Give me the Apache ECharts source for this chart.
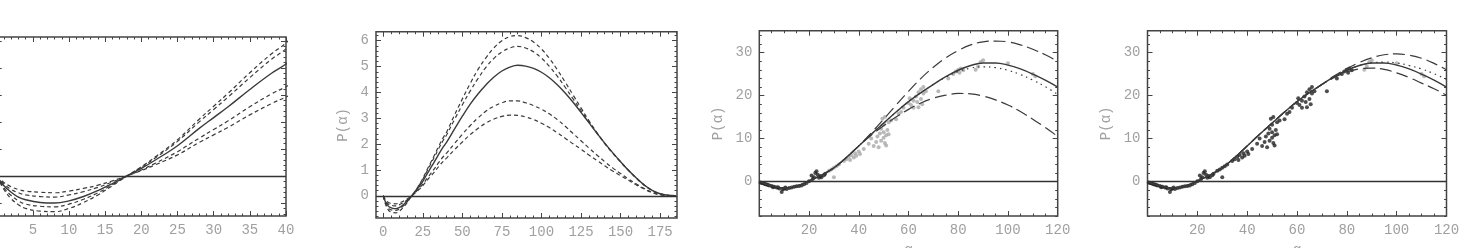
<!DOCTYPE html>
<html>
<head>
<meta charset="utf-8">
<script src="https://cdn.jsdelivr.net/npm/echarts@6/dist/echarts.min.js"></script>
<style>
html,body{margin:0;padding:0;background:#fff}
#main{width:1460px;height:248px}
</style>
</head>
<body>
<div id="main"></div>
<script>
// panels 1 and 2: same curves, panel 1 is the zoomed start
var xs12 = [0,1,2,3,4,6,8,10,12,14,16,18,20,22,25,28,30,32,35,38,40,45,50,55,60,65,70,75,80,85,90,95,100,105,110,115,120,125,130,135,140,145,150,155,160,165,170,175,180,185];
var p12Solid = [0,-0.18,-0.30,-0.39,-0.44,-0.49,-0.50,-0.46,-0.38,-0.27,-0.14,0,0.14,0.30,0.56,0.88,1.08,1.28,1.60,1.90,2.07,2.58,3.08,3.55,3.95,4.30,4.60,4.83,4.98,5.05,5.02,4.93,4.78,4.57,4.30,3.98,3.62,3.23,2.83,2.43,2.04,1.67,1.32,0.99,0.69,0.42,0.21,0.08,0.02,0];
var p12D1 = [0,-0.25,-0.42,-0.53,-0.60,-0.65,-0.66,-0.60,-0.49,-0.35,-0.18,0,0.17,0.36,0.67,1.05,1.29,1.53,1.91,2.26,2.46,3.12,3.75,4.35,4.90,5.35,5.73,6.00,6.16,6.20,6.12,5.95,5.68,5.32,4.88,4.40,3.90,3.40,2.91,2.45,2.03,1.65,1.31,0.98,0.68,0.41,0.20,0.07,0.02,0];
var p12D2 = [0,-0.22,-0.36,-0.46,-0.52,-0.56,-0.57,-0.52,-0.43,-0.31,-0.16,0,0.16,0.34,0.64,1.00,1.23,1.46,1.82,2.16,2.35,2.95,3.52,4.06,4.55,4.98,5.32,5.57,5.72,5.78,5.72,5.57,5.33,5.01,4.63,4.20,3.75,3.30,2.86,2.43,2.03,1.66,1.32,0.99,0.69,0.42,0.21,0.08,0.02,0];
var p12D3 = [0,-0.15,-0.25,-0.31,-0.35,-0.38,-0.39,-0.35,-0.29,-0.21,-0.11,0,0.11,0.24,0.45,0.70,0.86,1.02,1.28,1.52,1.65,2.02,2.38,2.72,3.02,3.28,3.47,3.60,3.67,3.67,3.60,3.49,3.35,3.17,2.95,2.69,2.41,2.13,1.85,1.58,1.32,1.08,0.86,0.65,0.46,0.28,0.13,0.04,0.01,0];
var p12D4 = [0,-0.12,-0.20,-0.25,-0.28,-0.30,-0.31,-0.28,-0.23,-0.17,-0.09,0,0.10,0.21,0.39,0.62,0.76,0.90,1.13,1.34,1.46,1.78,2.08,2.37,2.61,2.82,2.97,3.07,3.12,3.11,3.05,2.95,2.81,2.64,2.44,2.23,2.01,1.80,1.58,1.37,1.16,0.96,0.78,0.60,0.42,0.26,0.12,0.04,0.01,0];

// panels 3 and 4
var xs34 = [0,5,10,15,20,25,30,35,40,45,50,55,60,65,70,75,80,85,90,95,100,105,110,115,120];
var p34Solid = [0,-1.0,-1.5,-1.1,0.15,1.5,3.2,5.6,8.3,11.0,13.6,16.2,18.6,20.7,22.6,24.4,25.9,27.0,27.6,27.6,27.1,26.2,25.0,23.6,22.0];
var p3Dot = [0,-1.0,-1.5,-1.1,0.15,1.5,3.2,5.6,8.3,11.0,13.6,16.2,18.6,20.7,22.6,24.3,25.6,26.4,26.7,26.5,25.9,24.9,23.6,22.1,20.3];
var p3Up = [0,-1.0,-1.5,-1.1,0.15,1.5,3.2,5.6,8.3,11.3,14.5,17.8,21.0,24.0,26.6,28.8,30.5,31.8,32.5,32.7,32.5,31.8,30.8,29.5,28.0];
var p3Low = [0,-1.0,-1.5,-1.1,0.15,1.5,3.2,5.6,8.3,10.8,13.0,15.0,16.8,18.3,19.4,20.1,20.5,20.4,19.9,19.0,17.8,16.3,14.5,12.6,10.5];
var p4Dot = [0,-1.0,-1.5,-1.1,0.15,1.5,3.2,5.6,8.3,11.0,13.6,16.2,18.6,20.7,22.6,24.4,25.9,27.0,27.6,27.8,27.6,27.0,26.2,25.1,23.8];
var p4Up = [0,-1.0,-1.5,-1.1,0.15,1.5,3.2,5.6,8.3,11.0,13.6,16.2,18.6,20.7,22.6,24.6,26.3,27.7,28.8,29.5,29.7,29.4,28.7,27.5,26.0];
var p4Low = [0,-1.0,-1.5,-1.1,0.15,1.5,3.2,5.6,8.3,11.0,13.6,16.2,18.6,20.7,22.6,24.2,25.5,26.2,26.4,26.1,25.3,24.2,22.9,21.6,20.1];

// measured points
var ptsEarly = [[0.5,-0.2],[1,-0.3],[1.5,-0.4],[2,-0.5],[2.5,-0.6],[3,-0.7],[3.5,-0.8],[4,-0.9],[5,-1.0],[5.5,-1.3],[6,-1.2],[7,-1.4],[7.5,-1.3],[8,-1.6],[9,-2.4],[9.5,-1.8],[10,-1.6],[10.5,-1.4],[11,-1.7],[12,-1.5],[13,-1.4],[14,-1.2],[15,-1.1],[16,-1.0],[17,-0.9],[18,-0.6],[19,-0.3],[20,0.1],[21,1.4],[21.5,0.6],[22,1.0],[22.5,2.0],[23,2.4],[23.5,1.6],[24,0.9],[24.5,1.3],[25,1.0],[26,1.5],[26.5,1.8]];
var ptsMid = [[28,2.5],[29,2.8],[30,1.0],[30,3.2],[31,3.6],[32,4.0],[34,4.8],[35,5.2],[36,5.8],[36.5,5.0],[37,6.2],[38,5.6],[38.5,6.6],[39,6.0],[40,7.0],[40.5,6.4],[42,7.6],[44,8.8],[45,10.0],[46,8.3],[47,9.2],[47.5,10.5],[48,8.0],[48.5,11.2],[49,9.5],[49,12.3],[49.5,14.6],[50,10.2],[50,11.5],[50,13.2],[50.5,9.0],[50.5,15.0],[51,8.4],[51,10.8],[51.5,12.0],[52,11.0],[52,13.8],[53,14.2],[55,14.5],[56,15.8],[57,16.2],[58,17.2],[60,18.3],[60.5,19.4],[61,17.8],[62,18.8],[62,17.2],[63,19.8],[63.5,18.5],[64,20.8],[64,17.3],[65,21.5],[65,19.2],[65.5,18.0],[66,20.5],[66,22.0],[67,21.0],[72,21.0],[76,24.0],[78,25.0],[79,25.6],[80,26.0],[80.5,25.3],[81,26.3],[82,25.9]];
var ptsLate = [[87,26.0],[88,26.8],[89,27.8],[90,28.2],[100,27.5],[110,25.0],[111,24.5]];

// tick labels
var p1XTicks = [5,10,15,20,25,30,35,40];
var p2XTicks = [0,25,50,75,100,125,150,175];
var p2YTicks = [0,1,2,3,4,5,6];
var p34XTicks = [20,40,60,80,100,120];
var p34YTicks = [0,10,20,30];

function steps(a, b, d) {
  var out = [];
  for (var v = a; v <= b + 1e-9; v += d) out.push(Math.round(v * 1000) / 1000);
  return out;
}

var frameColor = '#444';
var textColor = '#a0a0a0';
var lineColor = '#3a3a3a';
var font = 'Liberation Mono';

var panels = [
  {left: -3.3, top: 37, width: 289.3, height: 179, xMin: 0, xMax: 40, yMin: -0.74, yMax: 2.57,
   xMajor: p1XTicks, xMinor: steps(0, 40, 1), yMajor: [-0.5,0,0.5,1,1.5,2,2.5], yMinor: steps(-0.7, 2.5, 0.1), yLabels: false},
  {left: 376, top: 31.7, width: 301, height: 186.3, xMin: -4.6, xMax: 185.7, yMin: -0.86, yMax: 6.35,
   xMajor: p2XTicks, xMinor: steps(0, 185, 5), yMajor: p2YTicks, yMinor: steps(-0.8, 6.2, 0.2), yLabels: true, yName: 'P(α)', yGap: 26},
  {left: 759.3, top: 30.7, width: 298.4, height: 185.3, xMin: 0, xMax: 120, yMin: -8, yMax: 35.1,
   xMajor: p34XTicks, xMinor: steps(0, 120, 5), yMajor: p34YTicks, yMinor: steps(-8, 34, 2), yLabels: true, yName: 'P(α)', yGap: 34, xName: 'α'},
  {left: 1147.5, top: 30.7, width: 299, height: 185.3, xMin: 0, xMax: 120, yMin: -8, yMax: 35.1,
   xMajor: p34XTicks, xMinor: steps(0, 120, 5), yMajor: p34YTicks, yMinor: steps(-8, 34, 2), yLabels: true, yName: 'P(α)', yGap: 34, xName: 'α'}
];

var grids = [], xAxes = [], yAxes = [], series = [];

function addAxes(list, g, min, max, pos, major, minor, label, name, gap) {
  var main = list.length;
  list.push({
    type: 'value', gridIndex: g, min: min, max: max, position: pos,
    axisLine: {show: false, onZero: false}, splitLine: {show: false},
    axisTick: {show: true, inside: true, length: 5, customValues: major, lineStyle: {color: frameColor, width: 1}},
    axisLabel: {show: label, customValues: major, color: textColor, fontFamily: font, fontSize: 14, margin: 7},
    name: name || '', nameLocation: 'middle', nameGap: gap || 0,
    nameTextStyle: {color: textColor, fontFamily: font, fontSize: 14}
  });
  list.push({
    type: 'value', gridIndex: g, min: min, max: max, position: pos,
    axisLine: {show: false, onZero: false}, splitLine: {show: false},
    axisTick: {show: true, inside: true, length: 2.5, customValues: minor, lineStyle: {color: frameColor, width: 1}},
    axisLabel: {show: false}
  });
  return main;
}

function curve(xi, yi, xs, ys, dash, width) {
  return {
    type: 'line', xAxisIndex: xi, yAxisIndex: yi, smooth: 0.4, showSymbol: false, silent: true,
    data: xs.map(function (x, i) { return [x, ys[i]]; }),
    lineStyle: {color: lineColor, width: width || 1.2, type: dash || 'solid'}
  };
}

function dots(xi, yi, pts, color) {
  return {type: 'scatter', xAxisIndex: xi, yAxisIndex: yi, symbol: 'circle', symbolSize: 4, silent: true,
    data: pts, itemStyle: {color: color}};
}

var ax = panels.map(function (p, g) {
  grids.push({left: p.left, top: p.top, width: p.width, height: p.height, show: true,
    outerBoundsMode: 'none', containLabel: false,
    borderColor: frameColor, borderWidth: 1.5, backgroundColor: 'transparent'});
  var xi = addAxes(xAxes, g, p.xMin, p.xMax, 'bottom', p.xMajor, p.xMinor, true, p.xName, 27);
  addAxes(xAxes, g, p.xMin, p.xMax, 'top', p.xMajor, p.xMinor, false);
  var yi = addAxes(yAxes, g, p.yMin, p.yMax, 'left', p.yMajor, p.yMinor, p.yLabels, p.yName, p.yGap);
  addAxes(yAxes, g, p.yMin, p.yMax, 'right', p.yMajor, p.yMinor, false);
  series.push({
    type: 'line', xAxisIndex: xi, yAxisIndex: yi, data: [], silent: true,
    markLine: {symbol: 'none', silent: true, label: {show: false},
      lineStyle: {color: '#333', width: 1.3, type: 'solid'}, data: [{yAxis: 0}]}
  });
  return [xi, yi];
});

var shortDash = [4, 3], longDash = [12, 5], dotted = [1.5, 4];

[0, 1].forEach(function (g) {
  var xi = ax[g][0], yi = ax[g][1];
  series.push(curve(xi, yi, xs12, p12D1, shortDash));
  series.push(curve(xi, yi, xs12, p12D2, shortDash));
  series.push(curve(xi, yi, xs12, p12D3, shortDash));
  series.push(curve(xi, yi, xs12, p12D4, shortDash));
  series.push(curve(xi, yi, xs12, p12Solid, 'solid', 1.4));
});

// panel 3
series.push(dots(ax[2][0], ax[2][1], ptsMid.concat(ptsLate), '#a8a8a8'));
series.push(dots(ax[2][0], ax[2][1], ptsEarly, '#222'));
series.push(curve(ax[2][0], ax[2][1], xs34, p3Up, longDash));
series.push(curve(ax[2][0], ax[2][1], xs34, p3Low, longDash));
series.push(curve(ax[2][0], ax[2][1], xs34, p3Dot, dotted));
series.push(curve(ax[2][0], ax[2][1], xs34, p34Solid, 'solid', 1.4));

// panel 4
series.push(dots(ax[3][0], ax[3][1], ptsLate, '#a8a8a8'));
series.push(dots(ax[3][0], ax[3][1], ptsEarly.concat(ptsMid), '#222'));
series.push(curve(ax[3][0], ax[3][1], xs34, p4Up, longDash));
series.push(curve(ax[3][0], ax[3][1], xs34, p4Low, longDash));
series.push(curve(ax[3][0], ax[3][1], xs34, p4Dot, dotted));
series.push(curve(ax[3][0], ax[3][1], xs34, p34Solid, 'solid', 1.4));

var option = {
  animation: false,
  backgroundColor: '#fff',
  grid: grids,
  xAxis: xAxes,
  yAxis: yAxes,
  series: series
};

var myChart = echarts.init(document.getElementById('main'));
myChart.setOption(option);
</script>
</body>
</html>
